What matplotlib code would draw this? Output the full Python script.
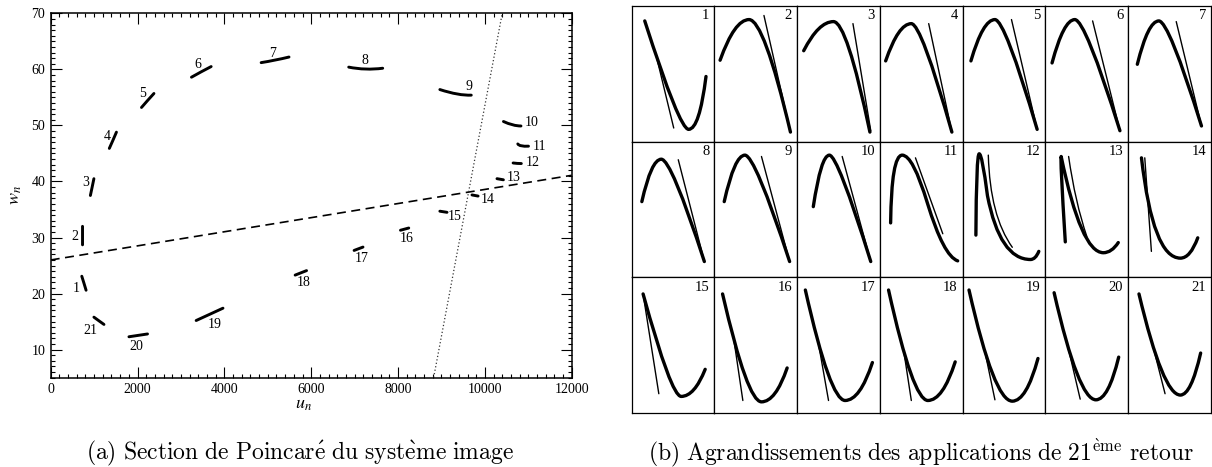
import matplotlib.pyplot as plt
from matplotlib.path import Path
from matplotlib.patches import PathPatch
from matplotlib.ticker import MultipleLocator

plt.rcParams['font.family'] = ['Liberation Serif', 'DejaVu Serif']
plt.rcParams['mathtext.fontset'] = 'stix'

# (a) Poincare section: each piece = start point, bend (control) point, end point
seg_id = list(range(1, 22))
seg_u0 = [716, 733, 995, 1514, 2378, 3696, 4847, 6864, 8963, 10428, 10758,
          10650, 10279, 9703, 8963, 8056, 6988, 5630, 3350, 1802, 995]
seg_w0 = [23.1, 32.0, 40.5, 48.8, 55.7, 60.5, 61.2, 60.4, 56.4, 50.7, 46.7,
          43.3, 40.5, 37.6, 34.7, 31.3, 27.7, 23.3, 15.2, 12.3, 15.8]
seg_uc = [765, 733, 955, 1432, 2235, 3470, 5170, 7250, 9400, 10650, 10800,
          10745, 10353, 9773, 9045, 8150, 7090, 5760, 3660, 2016, 1110]
seg_wc = [21.9, 30.3, 39.0, 47.3, 54.5, 59.6, 61.6, 59.8, 55.3, 49.9, 46.2,
          43.2, 40.4, 37.5, 34.6, 31.5, 28.0, 23.7, 16.3, 12.55, 15.15]
seg_u1 = [815, 733, 914, 1350, 2091, 3242, 5489, 7647, 9687, 10832, 11005,
          10840, 10427, 9844, 9128, 8247, 7193, 5893, 3968, 2230, 1227]
seg_w1 = [20.6, 28.7, 37.5, 45.9, 53.2, 58.6, 62.2, 60.2, 55.4, 49.9, 46.3,
          43.2, 40.3, 37.4, 34.5, 31.7, 28.3, 24.1, 17.4, 12.8, 14.5]
lab_u = [585, 568, 798, 1292, 2107, 3390, 5119, 7234, 9637, 11086, 11267,
         11103, 10667, 10074, 9309, 8198, 7153, 5835, 3778, 1983, 914]
lab_w = [20.9, 30.2, 39.8, 48.1, 55.7, 60.9, 62.8, 61.5, 56.9, 50.5, 46.2,
         43.3, 40.7, 36.8, 33.7, 29.8, 26.2, 21.9, 14.5, 10.5, 13.4]

dash_u = [0, 12000]
dash_w = [26.0, 41.1]
dot_u = [8820, 10400]
dot_w = [5, 70]

# (b) zooms, cell coordinates 0..1: anchor, control, anchor, control, anchor ...
thick_x = [
    [0.16, 0.58, 0.69, 0.82, 0.90],
    [0.07, 0.245, 0.42, 0.60, 0.92],
    [0.08, 0.26, 0.44, 0.60, 0.88],
    [0.07, 0.225, 0.38, 0.50, 0.87],
    [0.10, 0.245, 0.39, 0.51, 0.90],
    [0.08, 0.22, 0.355, 0.48, 0.90],
    [0.11, 0.24, 0.37, 0.49, 0.885],
    [0.125, 0.24, 0.36, 0.48, 0.88],
    [0.12, 0.245, 0.37, 0.49, 0.91],
    [0.196, 0.29, 0.39, 0.49, 0.89],
    [0.13, 0.14, 0.27, 0.40, 0.575, 0.77, 0.94],
    [0.16, 0.165, 0.20, 0.235, 0.30, 0.45, 0.82, 0.88, 0.92],
    [0.24, 0.175, 0.19, 0.43, 0.70, 0.80, 0.88],
    [0.16, 0.30, 0.63, 0.75, 0.84],
    [0.14, 0.48, 0.60, 0.76, 0.89],
    [0.10, 0.40, 0.57, 0.74, 0.88],
    [0.10, 0.40, 0.58, 0.76, 0.91],
    [0.105, 0.40, 0.58, 0.76, 0.91],
    [0.077, 0.38, 0.60, 0.77, 0.91],
    [0.105, 0.40, 0.61, 0.76, 0.885],
    [0.13, 0.42, 0.63, 0.76, 0.875],
]
thick_y = [
    [0.89, 0.09, 0.09, 0.09, 0.48],
    [0.60, 0.90, 0.90, 0.90, 0.07],
    [0.67, 0.885, 0.885, 0.885, 0.07],
    [0.595, 0.87, 0.87, 0.87, 0.07],
    [0.595, 0.90, 0.90, 0.90, 0.09],
    [0.58, 0.90, 0.90, 0.90, 0.08],
    [0.57, 0.89, 0.89, 0.89, 0.115],
    [0.557, 0.87, 0.87, 0.87, 0.115],
    [0.557, 0.90, 0.90, 0.90, 0.115],
    [0.52, 0.90, 0.90, 0.90, 0.115],
    [0.40, 0.90, 0.90, 0.90, 0.545, 0.155, 0.12],
    [0.31, 0.91, 0.91, 0.91, 0.60, 0.13, 0.13, 0.13, 0.19],
    [0.26, 0.89, 0.89, 0.18, 0.18, 0.18, 0.255],
    [0.88, 0.14, 0.14, 0.14, 0.29],
    [0.876, 0.12, 0.12, 0.12, 0.32],
    [0.876, 0.08, 0.08, 0.08, 0.33],
    [0.905, 0.09, 0.09, 0.09, 0.37],
    [0.905, 0.09, 0.09, 0.09, 0.375],
    [0.905, 0.085, 0.085, 0.085, 0.40],
    [0.885, 0.095, 0.095, 0.095, 0.41],
    [0.876, 0.13, 0.13, 0.13, 0.44],
]
thin_x = [
    [0.30, 0.51], [0.60, 0.92], [0.675, 0.89], [0.59, 0.87], [0.59, 0.90],
    [0.57, 0.90], [0.58, 0.885], [0.565, 0.88], [0.57, 0.91], [0.545, 0.89],
    [0.43, 0.76], [0.31, 0.33, 0.60], [0.28, 0.36, 0.50], [0.20, 0.28],
    [0.14, 0.33], [0.237, 0.345], [0.258, 0.38], [0.29, 0.38], [0.265, 0.39],
    [0.272, 0.42], [0.28, 0.445],
]
thin_y = [
    [0.63, 0.10], [0.93, 0.07], [0.87, 0.08], [0.87, 0.07], [0.90, 0.09],
    [0.89, 0.08], [0.885, 0.115], [0.866, 0.115], [0.89, 0.115], [0.89, 0.115],
    [0.88, 0.32], [0.90, 0.45, 0.22], [0.89, 0.55, 0.30], [0.88, 0.19],
    [0.876, 0.14], [0.537, 0.09], [0.512, 0.09], [0.45, 0.09], [0.463, 0.095],
    [0.487, 0.10], [0.537, 0.14],
]


def curve(xs, ys):
    codes = [Path.MOVETO] + [Path.LINETO if len(xs) == 2 else Path.CURVE3] * (len(xs) - 1)
    return Path(list(zip(xs, ys)), codes)


W, H = 1212, 467
fig = plt.figure(figsize=(W / 100, H / 100), dpi=100)

# ---- (a) ----
ax = fig.add_axes([50.7 / W, 1 - 377.7 / H, 521 / W, 364.4 / H])
ax.set_xlim(0, 12000)
ax.set_ylim(5, 70)
ax.plot(dash_u, dash_w, color='k', lw=1.2, dashes=(5.4, 3.3))
ax.plot(dot_u, dot_w, color='0.2', lw=0.9, dashes=(1, 1.8))
for i in range(len(seg_id)):
    p = curve([seg_u0[i], seg_uc[i], seg_u1[i]], [seg_w0[i], seg_wc[i], seg_w1[i]])
    ax.add_patch(PathPatch(p, fill=False, lw=2.1, color='k', capstyle='round'))
    ax.text(lab_u[i], lab_w[i], str(seg_id[i]), fontsize=10, ha='center', va='center')

ax.xaxis.set_major_locator(MultipleLocator(2000))
ax.xaxis.set_minor_locator(MultipleLocator(200))
ax.yaxis.set_major_locator(MultipleLocator(10))
ax.yaxis.set_minor_locator(MultipleLocator(1))
ax.tick_params(which='both', direction='in', top=True, right=True, width=0.8,
               labelsize=10, pad=4)
ax.tick_params(which='major', length=7.6)
ax.tick_params(which='minor', length=3.2)
for s in ax.spines.values():
    s.set_linewidth(1.1)
ax.set_xlabel(r'$u_n$', fontsize=13)
ax.xaxis.set_label_coords(0.485, -0.05)
ax.set_ylabel(r'$w_n$', fontsize=13)
ax.yaxis.set_label_coords(-0.052, 0.5)

# ---- (b) ----
gx0, gx1, gy0, gy1 = 631.5, 1211.0, 6.0, 412.7
cw = (gx1 - gx0) / 7
ch = (gy1 - gy0) / 3
for i in range(21):
    r, c = divmod(i, 7)
    cax = fig.add_axes([(gx0 + c * cw) / W, 1 - (gy0 + (r + 1) * ch) / H, cw / W, ch / H])
    cax.set_xlim(0, 1)
    cax.set_ylim(0, 1)
    cax.set_xticks([])
    cax.set_yticks([])
    for s in cax.spines.values():
        s.set_linewidth(0.9)
    cax.add_patch(PathPatch(curve(thick_x[i], thick_y[i]), fill=False, lw=2.4,
                            color='k', capstyle='round', joinstyle='round'))
    cax.add_patch(PathPatch(curve(thin_x[i], thin_y[i]), fill=False, lw=1.0,
                            color='k', capstyle='round'))
    cax.text(0.94, 0.975, str(i + 1), transform=cax.transAxes, fontsize=10.5,
             ha='right', va='top')

cap = dict(fontsize=17, ha='center', va='center', math_fontfamily='cm')
fig.text(300 / W, 1 - 453 / H,
         r'$\mathrm{(a)\ Section\ de\ Poincar\acute{e}\ du\ syst\grave{e}me\ image}$', **cap)
fig.text(921 / W, 1 - 453 / H,
         r'$\mathrm{(b)\ Agrandissements\ des\ applications\ de\ 21^{\grave{e}me}\ retour}$', **cap)

fig.savefig('out.png', dpi=100)
